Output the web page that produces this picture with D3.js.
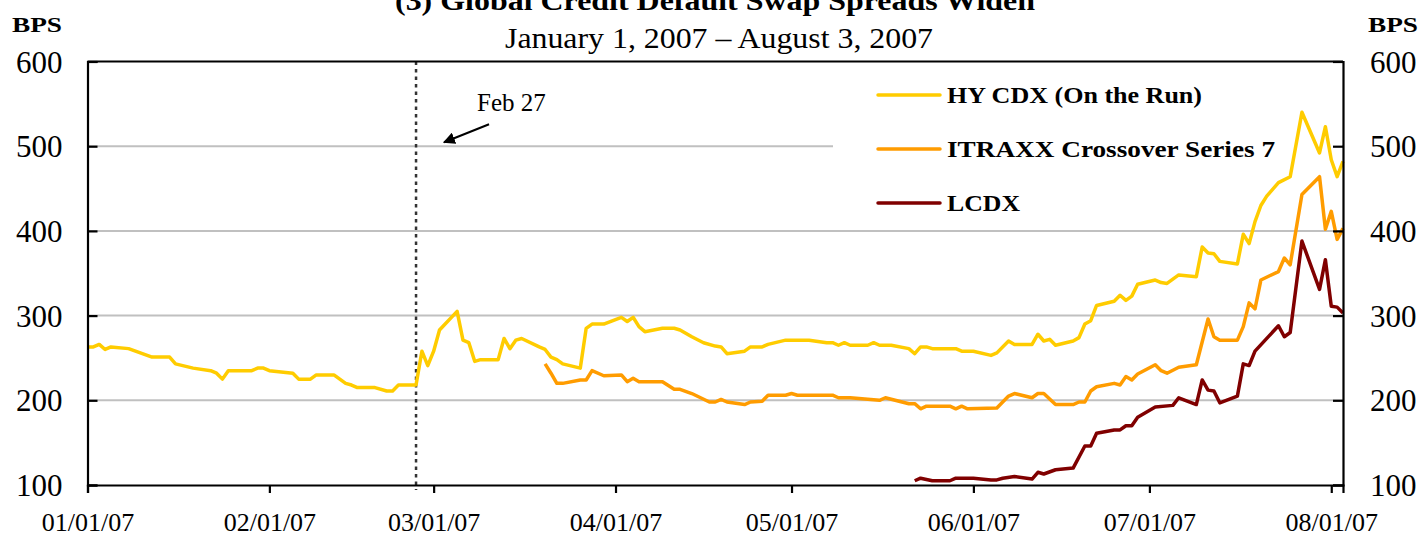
<!DOCTYPE html>
<html lang="en">
<head>
    <meta charset="UTF-8">
    <title>Global Credit Default Swap Spreads Widen</title>
    <script src="https://cdnjs.cloudflare.com/ajax/libs/d3/7.8.5/d3.min.js"></script>
    <style>
        body { margin: 0; background: #fff; }
        svg { display: block; font-family: "Liberation Serif", "Times New Roman", serif; }
    </style>
</head>
<body>
<svg id="chart" width="1426" height="538"></svg>

<script>
    // values (bps)
    const hyCdx = [
        ["2007-01-01", 263], ["2007-01-02", 263], ["2007-01-03", 266], ["2007-01-04", 260], ["2007-01-05", 263],
        ["2007-01-08", 261], ["2007-01-12", 251], ["2007-01-15", 251], ["2007-01-16", 243], ["2007-01-19", 238],
        ["2007-01-22", 235], ["2007-01-23", 232], ["2007-01-24", 225], ["2007-01-25", 235], ["2007-01-29", 235],
        ["2007-01-30", 238], ["2007-01-31", 238], ["2007-02-01", 235], ["2007-02-05", 232], ["2007-02-06", 225],
        ["2007-02-08", 225], ["2007-02-09", 230], ["2007-02-12", 230], ["2007-02-14", 220], ["2007-02-15", 218],
        ["2007-02-16", 215], ["2007-02-19", 215], ["2007-02-21", 211], ["2007-02-22", 211], ["2007-02-23", 218],
        ["2007-02-26", 218], ["2007-02-27", 258], ["2007-02-28", 241], ["2007-03-01", 258], ["2007-03-02", 283],
        ["2007-03-05", 305], ["2007-03-06", 271], ["2007-03-07", 268], ["2007-03-08", 246], ["2007-03-09", 248],
        ["2007-03-12", 248], ["2007-03-13", 273], ["2007-03-14", 261], ["2007-03-15", 271], ["2007-03-16", 273],
        ["2007-03-19", 263], ["2007-03-20", 260], ["2007-03-21", 251], ["2007-03-22", 248], ["2007-03-23", 243],
        ["2007-03-26", 238], ["2007-03-27", 285], ["2007-03-28", 290], ["2007-03-30", 290], ["2007-04-02", 298],
        ["2007-04-03", 293], ["2007-04-04", 298], ["2007-04-05", 287], ["2007-04-06", 281], ["2007-04-09", 285],
        ["2007-04-11", 285], ["2007-04-12", 283], ["2007-04-14", 275], ["2007-04-16", 268], ["2007-04-18", 264],
        ["2007-04-19", 263], ["2007-04-20", 255], ["2007-04-23", 258], ["2007-04-24", 263], ["2007-04-26", 263],
        ["2007-04-27", 266], ["2007-04-30", 271], ["2007-05-04", 271], ["2007-05-07", 268], ["2007-05-08", 268],
        ["2007-05-09", 265], ["2007-05-10", 268], ["2007-05-11", 265], ["2007-05-14", 265], ["2007-05-15", 268],
        ["2007-05-16", 265], ["2007-05-18", 265], ["2007-05-21", 261], ["2007-05-22", 255], ["2007-05-23", 263],
        ["2007-05-24", 263], ["2007-05-25", 261], ["2007-05-29", 261], ["2007-05-30", 258], ["2007-06-01", 258],
        ["2007-06-04", 253], ["2007-06-05", 256], ["2007-06-07", 270], ["2007-06-08", 266], ["2007-06-11", 266],
        ["2007-06-12", 278], ["2007-06-13", 270], ["2007-06-14", 272], ["2007-06-15", 265], ["2007-06-18", 270],
        ["2007-06-19", 274], ["2007-06-20", 290], ["2007-06-21", 294], ["2007-06-22", 312], ["2007-06-25", 317],
        ["2007-06-26", 324], ["2007-06-27", 318], ["2007-06-28", 323], ["2007-06-29", 337], ["2007-07-02", 342],
        ["2007-07-03", 339], ["2007-07-04", 338], ["2007-07-06", 348], ["2007-07-09", 346], ["2007-07-10", 381],
        ["2007-07-11", 374], ["2007-07-12", 373], ["2007-07-13", 364], ["2007-07-16", 361], ["2007-07-17", 396],
        ["2007-07-18", 385], ["2007-07-19", 411], ["2007-07-20", 430], ["2007-07-21", 441], ["2007-07-23", 457],
        ["2007-07-25", 464], ["2007-07-27", 540], ["2007-07-30", 492], ["2007-07-31", 523], ["2007-08-01", 484],
        ["2007-08-02", 464], ["2007-08-03", 482]
    ];

    const itraxx = [
        ["2007-03-20", 243], ["2007-03-21", 232], ["2007-03-22", 220], ["2007-03-23", 220], ["2007-03-26", 224],
        ["2007-03-27", 224], ["2007-03-28", 235], ["2007-03-30", 229], ["2007-04-02", 230], ["2007-04-03", 222],
        ["2007-04-04", 226], ["2007-04-05", 222], ["2007-04-09", 222], ["2007-04-11", 213], ["2007-04-12", 213],
        ["2007-04-14", 208], ["2007-04-17", 198], ["2007-04-18", 198], ["2007-04-19", 201], ["2007-04-20", 198],
        ["2007-04-23", 195], ["2007-04-24", 198], ["2007-04-26", 199], ["2007-04-27", 206], ["2007-04-30", 206],
        ["2007-05-01", 208], ["2007-05-02", 206], ["2007-05-08", 206], ["2007-05-09", 203], ["2007-05-11", 203],
        ["2007-05-16", 200], ["2007-05-17", 203], ["2007-05-21", 196], ["2007-05-22", 196], ["2007-05-23", 190],
        ["2007-05-24", 193], ["2007-05-28", 193], ["2007-05-29", 190], ["2007-05-30", 193], ["2007-05-31", 190],
        ["2007-06-05", 191], ["2007-06-07", 205], ["2007-06-08", 208], ["2007-06-11", 203], ["2007-06-12", 208],
        ["2007-06-13", 208], ["2007-06-15", 195], ["2007-06-18", 195], ["2007-06-19", 198], ["2007-06-20", 198],
        ["2007-06-21", 211], ["2007-06-22", 216], ["2007-06-25", 220], ["2007-06-26", 218], ["2007-06-27", 228],
        ["2007-06-28", 224], ["2007-06-29", 231], ["2007-07-02", 242], ["2007-07-03", 235], ["2007-07-04", 232],
        ["2007-07-06", 239], ["2007-07-09", 242], ["2007-07-11", 296], ["2007-07-12", 275], ["2007-07-13", 271],
        ["2007-07-16", 271], ["2007-07-17", 287], ["2007-07-18", 315], ["2007-07-19", 308], ["2007-07-20", 342],
        ["2007-07-23", 352], ["2007-07-24", 368], ["2007-07-25", 360], ["2007-07-27", 443], ["2007-07-30", 464],
        ["2007-07-31", 402], ["2007-08-01", 423], ["2007-08-02", 390], ["2007-08-03", 403]
    ];

    const lcdx = [
        ["2007-05-22", 105], ["2007-05-23", 108], ["2007-05-25", 105], ["2007-05-28", 105], ["2007-05-29", 108],
        ["2007-06-01", 108], ["2007-06-04", 106], ["2007-06-05", 106], ["2007-06-06", 108], ["2007-06-08", 110],
        ["2007-06-11", 107], ["2007-06-12", 115], ["2007-06-13", 113], ["2007-06-15", 118], ["2007-06-18", 120],
        ["2007-06-20", 146], ["2007-06-21", 146], ["2007-06-22", 161], ["2007-06-25", 165], ["2007-06-26", 165],
        ["2007-06-27", 170], ["2007-06-28", 170], ["2007-06-29", 180], ["2007-07-02", 192], ["2007-07-05", 194],
        ["2007-07-06", 203], ["2007-07-09", 195], ["2007-07-10", 224], ["2007-07-11", 212], ["2007-07-12", 211],
        ["2007-07-13", 197], ["2007-07-16", 205], ["2007-07-17", 243], ["2007-07-18", 241], ["2007-07-19", 258],
        ["2007-07-23", 288], ["2007-07-24", 275], ["2007-07-25", 280], ["2007-07-27", 388], ["2007-07-30", 331],
        ["2007-07-31", 366], ["2007-08-01", 311], ["2007-08-02", 310], ["2007-08-03", 303]
    ];

    const seriesNames = ["HY CDX (On the Run)", "ITRAXX Crossover Series 7", "LCDX"];
    const seriesColors = ["#ffcc00", "#ff9c00", "#800000"];
    const yTicks = [100, 200, 300, 400, 500, 600];
    const gridValues = [200, 300, 400, 500];
    const monthTicks = ["2007-01-01", "2007-02-01", "2007-03-01", "2007-04-01",
                        "2007-05-01", "2007-06-01", "2007-07-01", "2007-08-01"];
    const dateRange = ["2007-01-01", "2007-08-03"];
    const markerDate = "2007-02-26";
    const markerLabel = "Feb 27";
    const title = "(3) Global Credit Default Swap Spreads Widen";
    const subtitle = "January 1, 2007 \u2013 August 3, 2007";

    const parse = d3.timeParse("%Y-%m-%d");
    const svg = d3.select("#chart");

    const plotLeft = 87.5, plotRight = 1343, plotTop = 61.5, plotBottom = 485;

    const x = d3.scaleTime()
        .domain(dateRange.map(parse))
        .range([plotLeft, plotRight]);
    const y = d3.scaleLinear()
        .domain([100, 600])
        .range([plotBottom, plotTop]);

    // titles (the top one is clipped by the page edge, as in the source)
    svg.append("text")
        .attr("x", 715).attr("y", 10)
        .attr("text-anchor", "middle")
        .attr("font-size", 28).attr("font-weight", "bold")
        .attr("textLength", 640).attr("lengthAdjust", "spacingAndGlyphs")
        .text(title);
    svg.append("text")
        .attr("x", 719).attr("y", 48)
        .attr("text-anchor", "middle")
        .attr("font-size", 30)
        .attr("textLength", 428).attr("lengthAdjust", "spacingAndGlyphs")
        .text(subtitle);

    // BPS labels
    [12, 1368].forEach(bx => {
        svg.append("text")
            .attr("x", bx).attr("y", 32)
            .attr("font-size", 22).attr("font-weight", "bold")
            .attr("textLength", 50).attr("lengthAdjust", "spacingAndGlyphs")
            .text("BPS");
    });

    // grid
    svg.append("g")
        .selectAll("line")
        .data(gridValues)
        .join("line")
        .attr("x1", plotLeft).attr("x2", plotRight)
        .attr("y1", d => y(d)).attr("y2", d => y(d))
        .attr("stroke", "#c0c0c0")
        .attr("stroke-width", 2);

    // legend box hides the grid behind it
    svg.append("rect")
        .attr("x", 833).attr("y", plotTop + 1)
        .attr("width", plotRight - 833 - 1).attr("height", 162)
        .attr("fill", "#fff");

    // Feb 27 marker
    const mx = x(parse(markerDate));
    svg.append("line")
        .attr("x1", mx).attr("x2", mx)
        .attr("y1", plotTop).attr("y2", plotBottom + 5)
        .attr("stroke", "#333")
        .attr("stroke-width", 2.5)
        .attr("stroke-dasharray", "3.5,4");

    svg.append("defs").append("marker")
        .attr("id", "arrow")
        .attr("viewBox", "0 0 10 10")
        .attr("refX", 9).attr("refY", 5)
        .attr("markerWidth", 6).attr("markerHeight", 6)
        .attr("orient", "auto")
        .append("path")
        .attr("d", "M0,0 L10,5 L0,10 z")
        .attr("fill", "#000");

    svg.append("line")
        .attr("x1", mx + 73).attr("y1", y(500) - 22)
        .attr("x2", mx + 28).attr("y2", y(500) - 4)
        .attr("stroke", "#000")
        .attr("stroke-width", 2)
        .attr("marker-end", "url(#arrow)");
    svg.append("text")
        .attr("x", mx + 61).attr("y", 111)
        .attr("font-size", 25)
        .text(markerLabel);

    // series
    const line = d3.line()
        .x(d => x(parse(d[0])))
        .y(d => y(d[1]));

    [hyCdx, itraxx, lcdx].forEach((data, i) => {
        svg.append("path")
            .datum(data)
            .attr("fill", "none")
            .attr("stroke", seriesColors[i])
            .attr("stroke-width", 3.5)
            .attr("stroke-linejoin", "round")
            .attr("d", line);
    });

    // legend
    const legend = svg.append("g").attr("transform", "translate(878,95)");
    const legendWidths = [255, 328, 73];
    seriesNames.forEach((name, i) => {
        const g = legend.append("g").attr("transform", `translate(0,${i * 54})`);
        g.append("line")
            .attr("x1", 0).attr("x2", 62)
            .attr("stroke", seriesColors[i])
            .attr("stroke-width", 3.5)
            .attr("stroke-linecap", "round");
        g.append("text")
            .attr("x", 69).attr("y", 8)
            .attr("font-size", 24).attr("font-weight", "bold")
            .attr("textLength", legendWidths[i]).attr("lengthAdjust", "spacingAndGlyphs")
            .text(name);
    });

    // frame
    svg.append("line")
        .attr("x1", plotLeft).attr("x2", plotRight)
        .attr("y1", plotTop).attr("y2", plotTop)
        .attr("stroke", "#000").attr("stroke-width", 2);

    const leftAxis = svg.append("g")
        .attr("transform", `translate(${plotLeft},0)`)
        .call(d3.axisLeft(y).tickValues(yTicks).tickSize(-10).tickPadding(25));
    const rightAxis = svg.append("g")
        .attr("transform", `translate(${plotRight},0)`)
        .call(d3.axisRight(y).tickValues(yTicks).tickSize(-10).tickPadding(27));
    const bottomAxis = svg.append("g")
        .attr("transform", `translate(0,${plotBottom})`)
        .call(d3.axisBottom(x)
            .tickValues(monthTicks.map(parse))
            .tickFormat(d3.timeFormat("%m/%d/%y"))
            .tickSize(8)
            .tickPadding(20));

    [leftAxis, rightAxis, bottomAxis].forEach(a => {
        a.select(".domain").attr("stroke", "#000").attr("stroke-width", 2.2);
        a.selectAll(".tick line").attr("stroke", "#000").attr("stroke-width", 2.2);
        a.selectAll("text")
            .attr("font-family", "Liberation Serif, Times New Roman, serif")
            .attr("fill", "#000");
    });
    leftAxis.selectAll("text").attr("font-size", 31).attr("dy", "0.34em");
    rightAxis.selectAll("text").attr("font-size", 31).attr("dy", "0.34em");
    bottomAxis.selectAll("text").attr("font-size", 26).attr("dy", "0.71em");
</script>
</body>
</html>
